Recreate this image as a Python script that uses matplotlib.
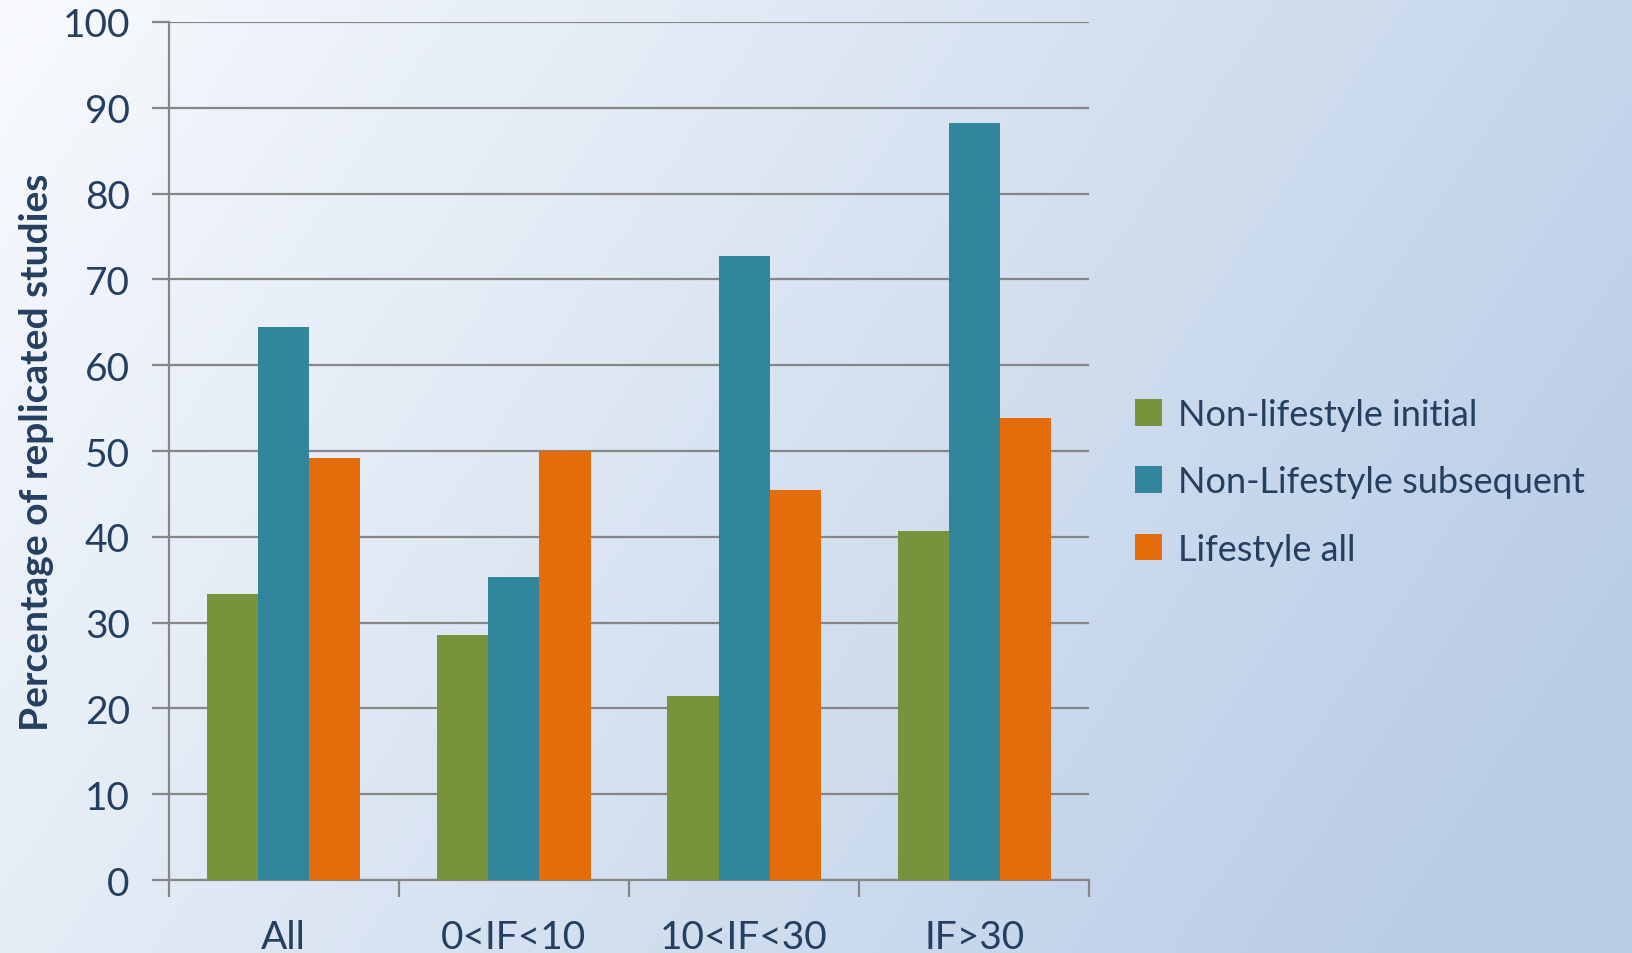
import numpy as np
import matplotlib
matplotlib.use("Agg")
import matplotlib.pyplot as plt
from matplotlib.patches import Patch

categories = ["All", "0<IF<10", "10<IF<30", "IF>30"]
series_names = ["Non-lifestyle initial", "Non-Lifestyle subsequent", "Lifestyle all"]
nonlife_initial = [33.3, 28.6, 21.4, 40.7]
nonlife_subsequent = [64.4, 35.3, 72.7, 88.2]
lifestyle_all = [49.2, 50.0, 45.5, 53.8]
colors = ["#77933c", "#31859c", "#e46c0a"]
yticks = list(range(0, 101, 10))

txt = "#243f60"
plt.rcParams['font.family'] = ['Lato', 'DejaVu Sans']

fig = plt.figure(figsize=(16.33, 9.54), dpi=100)

# background gradient
bg = fig.add_axes([0, 0, 1, 1], zorder=-10)
nx, ny = 400, 240
xx, yy = np.meshgrid(np.linspace(0, 1, nx), np.linspace(0, 1, ny))
t = np.clip(0.78 * xx + 0.30 * yy, 0, 1)
c0 = np.array([248, 250, 253]) / 255.0
c1 = np.array([184, 204, 230]) / 255.0
img = c0[None, None, :] * (1 - t[..., None]) + c1[None, None, :] * t[..., None]
bg.imshow(img, aspect='auto', extent=[0, 1, 0, 1], origin='upper')
bg.axis('off')

ax = fig.add_axes([0.1033, 0.0764, 0.5638, 0.8996])
ax.patch.set_alpha(0)

x = np.arange(len(categories))
w = 0.222
data = [nonlife_initial, nonlife_subsequent, lifestyle_all]
for i, (vals, c) in enumerate(zip(data, colors)):
    ax.bar(x + (i - 1) * w, vals, width=w, color=c, zorder=3, linewidth=0)

ax.set_xlim(-0.5, len(categories) - 0.5)
ax.set_ylim(0, 100)
ax.set_yticks(yticks)
ax.set_yticklabels([str(v) for v in yticks], fontsize=28, color=txt)
ax.yaxis.grid(True, color="#868686", linewidth=1.6, zorder=1)
ax.set_axisbelow(True)
for s in ["top", "right"]:
    ax.spines[s].set_visible(False)
for s in ["left", "bottom"]:
    ax.spines[s].set_color("#868686")
    ax.spines[s].set_linewidth(1.6)
ax.tick_params(axis='y', length=12, width=1.6, color="#868686", pad=16)

ax.set_xticks(np.arange(-0.5, len(categories), 1.0))
ax.set_xticklabels([])
ax.tick_params(axis='x', which='major', length=12, width=1.6, color="#868686")
ax.set_xticks(x, minor=True)
ax.set_xticklabels(categories, minor=True, fontsize=28, color=txt)
ax.tick_params(axis='x', which='minor', length=0, pad=28)

ax.set_ylabel("Percentage of replicated studies", fontsize=28, fontweight='bold',
              color=txt, labelpad=6)

handles = [Patch(facecolor=c, edgecolor='none') for c in colors]
leg = fig.legend(handles, series_names, loc='center left', bbox_to_anchor=(0.675, 0.494),
                 frameon=False, fontsize=26, labelcolor=txt, handlelength=0.75,
                 handleheight=0.75, handletextpad=0.45, labelspacing=0.95)

fig.savefig("out.png", dpi=100)
